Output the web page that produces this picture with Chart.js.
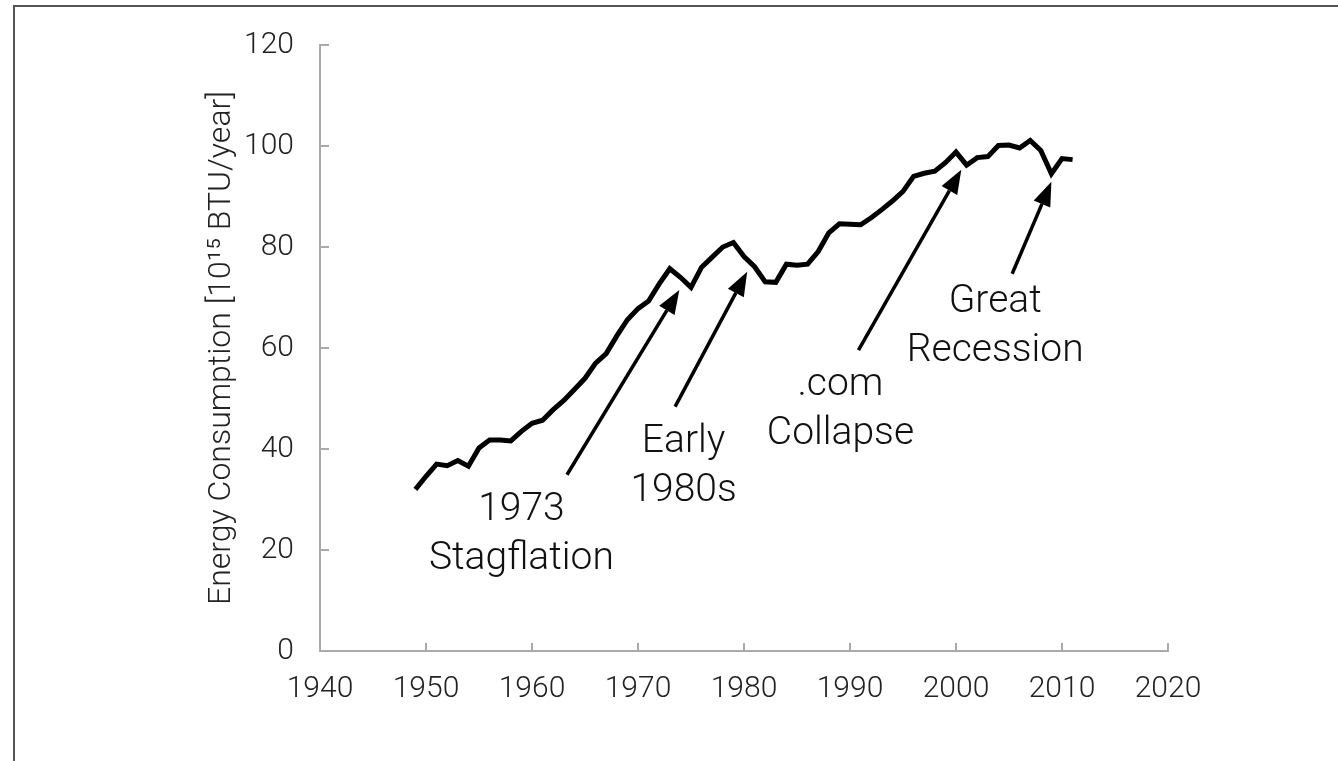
<!DOCTYPE html>
<html>
<head>
<meta charset="utf-8">
<script src="https://cdn.jsdelivr.net/npm/chart.js@4.4.0/dist/chart.umd.min.js"></script>
<style>
  html, body { margin: 0; padding: 0; background: #fff; }
  #wrap { width: 1338px; height: 761px; position: relative; }
</style>
</head>
<body>
<div id="wrap"><canvas id="myChart" width="1338" height="761"></canvas></div>
<script>
// US energy consumption, quadrillion BTU per year
var years = [1949, 1950, 1951, 1952, 1953, 1954, 1955, 1956, 1957, 1958, 1959,
  1960, 1961, 1962, 1963, 1964, 1965, 1966, 1967, 1968, 1969,
  1970, 1971, 1972, 1973, 1974, 1975, 1976, 1977, 1978, 1979,
  1980, 1981, 1982, 1983, 1984, 1985, 1986, 1987, 1988, 1989,
  1990, 1991, 1992, 1993, 1994, 1995, 1996, 1997, 1998, 1999,
  2000, 2001, 2002, 2003, 2004, 2005, 2006, 2007, 2008, 2009,
  2010, 2011];
var consumption = [32.0, 34.6, 37.0, 36.7, 37.7, 36.6, 40.2, 41.8, 41.8, 41.6, 43.5,
  45.1, 45.7, 47.8, 49.6, 51.8, 54.0, 57.0, 58.9, 62.4, 65.6,
  67.8, 69.3, 72.7, 75.7, 74.0, 72.0, 76.0, 78.0, 80.0, 80.9,
  78.1, 76.1, 73.1, 73.0, 76.6, 76.4, 76.6, 79.1, 82.8, 84.6,
  84.5, 84.4, 85.8, 87.4, 89.1, 91.0, 94.0, 94.6, 95.0, 96.7,
  98.8, 96.2, 97.7, 97.9, 100.1, 100.2, 99.6, 101.1, 99.1, 94.5,
  97.5, 97.3];

// axis ticks
var xTicks = [1940, 1950, 1960, 1970, 1980, 1990, 2000, 2010, 2020];
var yTicks = [0, 20, 40, 60, 80, 100, 120];

// annotations: label lines, label anchor (year, value), arrow tail and head in data units
var noteLines = [["1973", "Stagflation"], ["Early", "1980s"], [".com", "Collapse"], ["Great", "Recession"]];
var noteAt = [[1959.0, 25.9], [1974.3, 39.5], [1989.1, 50.7], [2003.7, 67.1]];
var arrowFrom = [[1963.3, 34.9], [1973.5, 48.4], [1990.8, 59.6], [2005.3, 74.7]];
var arrowTo = [[1973.9, 71.5], [1980.3, 75.1], [2000.5, 95.3], [2009.0, 92.9]];

var FONT = "Roboto, 'Liberation Sans', sans-serif";

var points = [];
for (let i = 0; i < years.length; i++) {
  points.push({ x: years[i], y: consumption[i] });
}

// frame lines, inward tick marks, arrows and labels
var extras = {
  id: "extras",
  beforeDraw(chart) {
    const ctx = chart.ctx;
    ctx.save();
    ctx.strokeStyle = "#555";
    ctx.lineWidth = 2;
    ctx.beginPath();
    ctx.moveTo(14, 761);
    ctx.lineTo(14, 6);
    ctx.lineTo(1338, 6);
    ctx.stroke();
    ctx.restore();
  },
  afterDraw(chart) {
    const ctx = chart.ctx;
    const xs = chart.scales.x;
    const ys = chart.scales.y;
    const area = chart.chartArea;
    ctx.save();
    // inward ticks
    ctx.strokeStyle = "#aaa";
    ctx.lineWidth = 2;
    ctx.beginPath();
    xTicks.forEach(function (t) {
      const px = Math.round(xs.getPixelForValue(t));
      ctx.moveTo(px, area.bottom);
      ctx.lineTo(px, area.bottom - 8);
    });
    yTicks.forEach(function (t) {
      const py = Math.round(ys.getPixelForValue(t));
      ctx.moveTo(area.left, py);
      ctx.lineTo(area.left + 9, py);
    });
    ctx.stroke();

    // arrows
    for (let i = 0; i < arrowFrom.length; i++) {
      const x0 = xs.getPixelForValue(arrowFrom[i][0]);
      const y0 = ys.getPixelForValue(arrowFrom[i][1]);
      const x1 = xs.getPixelForValue(arrowTo[i][0]);
      const y1 = ys.getPixelForValue(arrowTo[i][1]);
      const ang = Math.atan2(y1 - y0, x1 - x0);
      const headLen = 24, headW = 9;
      const bx = x1 - headLen * Math.cos(ang);
      const by = y1 - headLen * Math.sin(ang);
      ctx.strokeStyle = "#000";
      ctx.lineWidth = 3.5;
      ctx.beginPath();
      ctx.moveTo(x0, y0);
      ctx.lineTo(bx, by);
      ctx.stroke();
      ctx.fillStyle = "#000";
      ctx.beginPath();
      ctx.moveTo(x1, y1);
      ctx.lineTo(bx + headW * Math.sin(ang), by - headW * Math.cos(ang));
      ctx.lineTo(bx - headW * Math.sin(ang), by + headW * Math.cos(ang));
      ctx.closePath();
      ctx.fill();
    }

    // labels
    ctx.fillStyle = "#111";
    ctx.font = "300 39px " + FONT;
    ctx.textAlign = "center";
    ctx.textBaseline = "alphabetic";
    for (let i = 0; i < noteLines.length; i++) {
      const cx = xs.getPixelForValue(noteAt[i][0]);
      const cy = ys.getPixelForValue(noteAt[i][1]);
      noteLines[i].forEach(function (line, j) {
        ctx.fillText(line, cx, cy + j * 49);
      });
    }
    ctx.restore();
  }
};

const config = {
  type: "line",
  data: {
    datasets: [
      {
        label: "Energy Consumption",
        data: points,
        borderColor: "#000",
        borderWidth: 5,
        pointRadius: 0,
        tension: 0,
        fill: false,
      },
    ],
  },
  options: {
    responsive: false,
    animation: false,
    layout: { padding: { top: 45, right: 170, bottom: 0, left: 203 } },
    plugins: { legend: { display: false }, tooltip: { enabled: false } },
    scales: {
      x: {
        type: "linear",
        min: 1940,
        max: 2020,
        afterFit(scale) { scale.height = 110; },
        afterBuildTicks(scale) { scale.ticks = xTicks.map(v => ({ value: v })); },
        grid: { display: false, drawTicks: false },
        border: { color: "#aaa", width: 2 },
        ticks: {
          color: "#222",
          padding: 20,
          font: { family: FONT, size: 30, weight: 300 },
          callback: v => String(v),
        },
      },
      y: {
        min: 0,
        max: 120,
        afterFit(scale) { scale.width = 117; },
        afterBuildTicks(scale) { scale.ticks = yTicks.map(v => ({ value: v })); },
        grid: { display: false, drawTicks: false },
        border: { color: "#aaa", width: 2 },
        ticks: {
          color: "#222",
          padding: 26,
          font: { family: FONT, size: 30, weight: 300 },
        },
        title: {
          display: true,
          text: "Energy Consumption [10\u00B9\u2075 BTU/year]",
          color: "#222",
          padding: { top: 0, bottom: 0 },
          font: { family: FONT, size: 32, weight: 300 },
        },
      },
    },
  },
  plugins: [extras],
};

var myChart = new Chart(document.getElementById("myChart"), config);
</script>
</body>
</html>
